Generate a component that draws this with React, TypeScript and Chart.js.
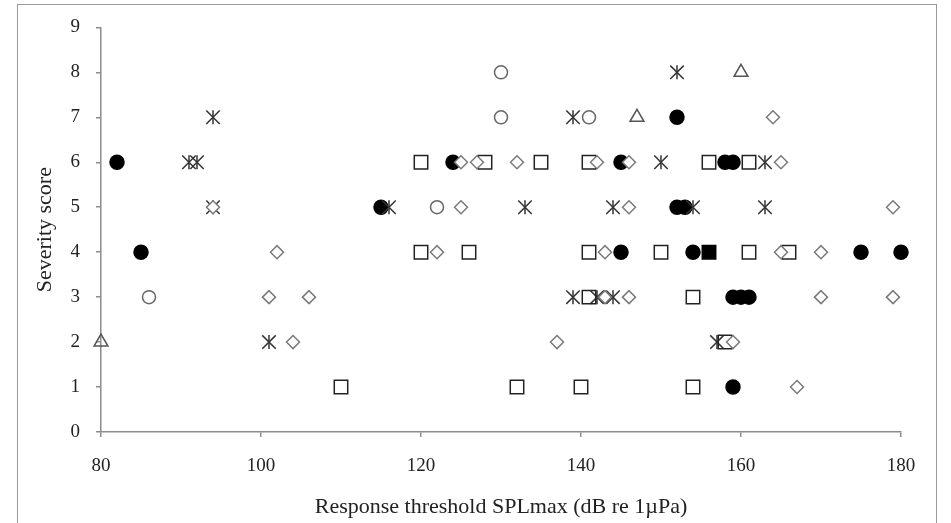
import React, { useEffect, useRef } from "react";
import { Chart, registerables } from "chart.js";

Chart.register(...registerables);

// Response threshold SPLmax (x) vs severity score (y), by marker type
const openSquares: [number, number][] = [
  [120, 6], [128, 6], [135, 6], [141, 6], [156, 6], [161, 6],
  [120, 4], [126, 4], [141, 4], [150, 4], [161, 4], [166, 4],
  [141, 3], [154, 3],
  [158, 2],
  [110, 1], [132, 1], [140, 1], [154, 1],
];
const filledSquares: [number, number][] = [[156, 4]];
const diamonds: [number, number][] = [
  [164, 7],
  [125, 6], [127, 6], [132, 6], [142, 6], [146, 6], [165, 6],
  [94, 5], [125, 5], [146, 5], [179, 5],
  [102, 4], [122, 4], [143, 4], [165, 4], [170, 4],
  [101, 3], [106, 3], [143, 3], [146, 3], [170, 3], [179, 3],
  [104, 2], [137, 2], [159, 2],
  [167, 1],
];
const filledCircles: [number, number][] = [
  [152, 7],
  [82, 6], [124, 6], [145, 6], [158, 6], [159, 6],
  [115, 5], [152, 5], [153, 5],
  [85, 4], [145, 4], [154, 4], [175, 4], [180, 4],
  [159, 3], [160, 3], [161, 3],
  [159, 1],
];
const openCircles: [number, number][] = [
  [130, 8], [130, 7], [141, 7], [122, 5], [86, 3],
];
const asterisks: [number, number][] = [
  [152, 8],
  [94, 7], [139, 7],
  [91, 6], [92, 6], [150, 6], [163, 6],
  [94, 5], [116, 5], [133, 5], [144, 5], [154, 5], [163, 5],
  [139, 3], [142, 3], [144, 3],
  [101, 2], [157, 2],
];
const triangles: [number, number][] = [[160, 8], [147, 7], [80, 2]];

const xTicks = [80, 100, 120, 140, 160, 180];
const yTicks = [0, 1, 2, 3, 4, 5, 6, 7, 8, 9];
const xTitle = "Response threshold SPLmax (dB re 1\u00b5Pa)";
const yTitle = "Severity score";

const toPts = (a: [number, number][]) => a.map(([x, y]) => ({ x, y }));

export default function App() {
  const ref = useRef<HTMLCanvasElement | null>(null);
  useEffect(() => {
    if (!ref.current) return;
    const fontFam = "'Liberation Serif', 'Times New Roman', serif";
    const base = { showLine: false, clip: false as any, borderWidth: 1.5 };
    const chart = new Chart(ref.current, {
      type: "scatter",
      data: {
        datasets: [
          { ...base, label: "diamond", data: toPts(diamonds), pointStyle: "rectRot", pointRadius: 6.5, borderColor: "#7a7a7a", backgroundColor: "#ffffff" },
          { ...base, label: "square", data: toPts(openSquares), pointStyle: "rect", pointRadius: 9.5, borderColor: "#222222", backgroundColor: "rgba(255,255,255,0)" },
          { ...base, label: "filled square", data: toPts(filledSquares), pointStyle: "rect", pointRadius: 9.5, borderColor: "#000000", backgroundColor: "#000000" },
          { ...base, label: "open circle", data: toPts(openCircles), pointStyle: "circle", pointRadius: 6.5, borderColor: "#666666", backgroundColor: "rgba(255,255,255,0)" },
          { ...base, label: "triangle", data: toPts(triangles), pointStyle: "triangle", pointRadius: 8, borderColor: "#555555", backgroundColor: "rgba(255,255,255,0)" },
          { ...base, label: "asterisk X", data: toPts(asterisks), pointStyle: "crossRot", pointRadius: 9.5, borderColor: "#333333" },
          { ...base, label: "asterisk |", data: toPts(asterisks), pointStyle: "line", rotation: 90, pointRadius: 7, borderColor: "#333333" },
          { ...base, label: "filled circle", data: toPts(filledCircles), pointStyle: "circle", pointRadius: 7, borderColor: "#000000", backgroundColor: "#000000" },
        ],
      },
      options: {
        animation: false,
        responsive: false,
        maintainAspectRatio: false,
        events: [],
        layout: { padding: { top: 23, right: 50, bottom: 0, left: 0 } },
        plugins: { legend: { display: false }, tooltip: { enabled: false } },
        scales: {
          x: {
            type: "linear",
            min: 80,
            max: 180,
            afterBuildTicks: (s: any) => { s.ticks = xTicks.map((v) => ({ value: v })); },
            afterFit: (s: any) => { s.height = 91; },
            ticks: { color: "#222222", font: { family: fontFam, size: 19 }, padding: 18 },
            grid: { drawOnChartArea: false, drawTicks: true, tickLength: 5, color: "#8c8c8c", lineWidth: 1.5 },
            border: { color: "#8c8c8c", width: 1.5 },
            title: { display: true, text: xTitle, color: "#222222", font: { family: fontFam, size: 22 }, padding: { top: 0, bottom: 3 } },
          },
          y: {
            type: "linear",
            min: 0,
            max: 9,
            afterBuildTicks: (s: any) => { s.ticks = yTicks.map((v) => ({ value: v })); },
            afterFit: (s: any) => { s.width = 101; },
            ticks: { color: "#222222", font: { family: fontFam, size: 19 }, padding: 16 },
            grid: { drawOnChartArea: false, drawTicks: true, tickLength: 5, color: "#8c8c8c", lineWidth: 1.5 },
            border: { color: "#8c8c8c", width: 1.5 },
            title: { display: true, text: yTitle, color: "#222222", font: { family: fontFam, size: 22 }, padding: { top: 32, bottom: 0 } },
          },
        },
      },
    });
    return () => chart.destroy();
  }, []);
  return (
    <div style={{ position: "absolute", left: 0, top: 0, width: 951, height: 523, background: "#fff", overflow: "hidden" }}>
      <div style={{ position: "absolute", left: 17, top: 4, width: 920, height: 540, border: "1px solid #9a9a9a", boxSizing: "border-box" }} />
      <canvas ref={ref} width={951} height={523} style={{ position: "absolute", left: 0, top: 0, width: 951, height: 523 }} />
    </div>
  );
}
